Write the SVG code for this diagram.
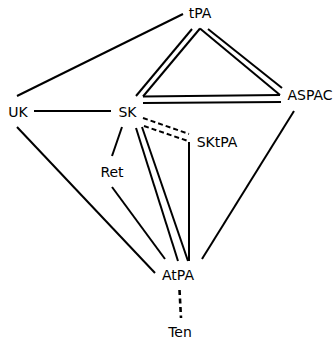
<svg xmlns="http://www.w3.org/2000/svg" width="336" height="339" viewBox="0 0 336 339">
<style>
text{font-family:"DejaVu Sans","Liberation Sans",sans-serif;font-size:14px;fill:#000;text-anchor:middle}
.e line{stroke:#000;stroke-width:2;fill:none}
.e .d{stroke-dasharray:5,3}
.e .t{stroke-width:2.6;stroke-dasharray:5,3.5}
</style>
<rect width="336" height="339" fill="#fff"/>
<g id="connectors" class="e">
<line x1="17" y1="96" x2="183" y2="14"/>
<line x1="34" y1="111" x2="111" y2="111"/>
<line x1="17" y1="127" x2="155" y2="273"/>
<line x1="192" y1="29" x2="136" y2="96"/>
<line x1="200" y1="28.5" x2="143" y2="96.5"/>
<line x1="200" y1="28.5" x2="280" y2="95"/>
<line x1="208" y1="29" x2="282" y2="88"/>
<line x1="143" y1="96.5" x2="280" y2="95"/>
<line x1="143" y1="103" x2="281" y2="102"/>
<line class="d" x1="143" y1="118" x2="189" y2="134"/>
<line class="d" x1="144" y1="126" x2="188" y2="141"/>
<line x1="189" y1="142" x2="189" y2="261"/>
<line x1="136" y1="128" x2="178" y2="261"/>
<line x1="142" y1="127" x2="188" y2="261"/>
<line x1="122" y1="127" x2="112" y2="156"/>
<line x1="112" y1="187" x2="165" y2="259"/>
<line x1="294" y1="111" x2="202" y2="259"/>
<line class="t" x1="179.5" y1="290" x2="181" y2="318"/>
</g>
<g id="tPA"><text x="200" y="18">tPA</text></g>
<g id="UK"><text x="18" y="117">UK</text></g>
<g id="SK"><text x="127.5" y="117">SK</text></g>
<g id="ASPAC"><text x="310" y="100">ASPAC</text></g>
<g id="SKtPA"><text x="217" y="147">SKtPA</text></g>
<g id="Ret"><text x="112" y="177">Ret</text></g>
<g id="AtPA"><text x="178" y="280">AtPA</text></g>
<g id="Ten"><text x="180" y="337">Ten</text></g>
</svg>
